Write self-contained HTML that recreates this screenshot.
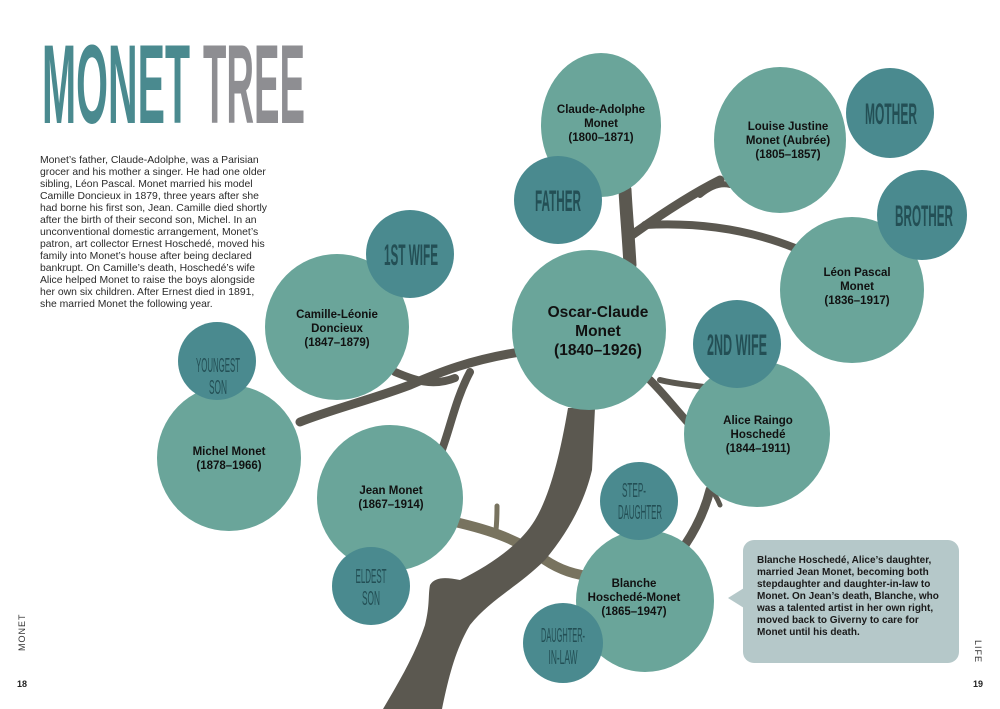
<!DOCTYPE html>
<html><head><meta charset="utf-8"><style>
html,body{margin:0;padding:0;background:#fff;}
svg{display:block;}
.p{font-family:"Liberation Sans",sans-serif;font-size:10.4px;fill:#2a2a2a;}
.n{font-family:"Liberation Sans",sans-serif;font-weight:bold;fill:#111;text-anchor:middle;}
.l{font-family:"Liberation Sans",sans-serif;fill:#234f55;text-anchor:middle;}
.c{font-family:"Liberation Sans",sans-serif;font-weight:bold;font-size:10px;fill:#1a1a1a;}
</style></head><body>
<svg width="1000" height="709" viewBox="0 0 1000 709" xmlns="http://www.w3.org/2000/svg">
<rect width="1000" height="709" fill="#fff"/>
<!-- title -->
<text x="42" y="123" font-family="Liberation Sans, sans-serif" font-weight="bold" font-size="112" fill="#4a8a8f" textLength="148" lengthAdjust="spacingAndGlyphs">MONET</text>
<text x="203" y="123" font-family="Liberation Sans, sans-serif" font-weight="bold" font-size="112" fill="#8e8e92" textLength="102" lengthAdjust="spacingAndGlyphs">TREE</text>
<!-- paragraph -->
<g class="p">
<text x="40" y="163">Monet’s father, Claude-Adolphe, was a Parisian</text>
<text x="40" y="175">grocer and his mother a singer. He had one older</text>
<text x="40" y="187">sibling, Léon Pascal. Monet married his model</text>
<text x="40" y="199">Camille Doncieux in 1879, three years after she</text>
<text x="40" y="211">had borne his first son, Jean. Camille died shortly</text>
<text x="40" y="223">after the birth of their second son, Michel. In an</text>
<text x="40" y="235">unconventional domestic arrangement, Monet’s</text>
<text x="40" y="247">patron, art collector Ernest Hoschedé, moved his</text>
<text x="40" y="259">family into Monet’s house after being declared</text>
<text x="40" y="271">bankrupt. On Camille’s death, Hoschedé’s wife</text>
<text x="40" y="283">Alice helped Monet to raise the boys alongside</text>
<text x="40" y="295">her own six children. After Ernest died in 1891,</text>
<text x="40" y="307">she married Monet the following year.</text>
</g>
<!-- branches -->
<g fill="none" stroke="#5b5850" stroke-linecap="round">
<path d="M520,352 C470,360 440,372 410,385 C370,400 330,410 300,422" stroke-width="9"/>
<path d="M455,378 C430,388 410,378 395,372" stroke-width="8"/>
<path d="M470,372 C455,400 450,430 440,455" stroke-width="8"/>
<path d="M630,265 C628,230 626,210 625,190" stroke-width="13"/>
<path d="M632,235 C660,215 690,195 720,180" stroke-width="9"/>
<path d="M700,195 C712,185 722,183 730,185" stroke-width="6"/>
<path d="M645,225 C700,222 750,230 795,248" stroke-width="8"/>
<path d="M650,380 C665,395 672,405 690,425" stroke-width="8"/>
<path d="M660,380 C680,385 695,385 710,388" stroke-width="6"/>
<path d="M710,490 C705,510 695,530 685,545" stroke-width="9"/>
<path d="M715,495 C718,500 720,505 720,505" stroke-width="5"/>
</g>
<path d="M455,522 C490,530 520,540 545,560 C560,570 575,575 595,577" fill="none" stroke="#78735f" stroke-width="10"/>
<path d="M496,530 C497,520 497,512 497,506" fill="none" stroke="#78735f" stroke-width="5" stroke-linecap="round"/>
<path d="M568,408 L595,408 L592,470 C585,500 570,530 545,560 C520,585 490,600 470,625 C455,650 448,680 442,709 L383,709 C400,680 415,655 425,625 C430,605 428,595 430,585 C435,577 445,577 460,580 C490,565 520,545 535,520 C550,495 560,455 568,408 Z" fill="#5b5850"/>
<!-- big circles -->
<g fill="#6aa59a">
<ellipse cx="601" cy="125" rx="60" ry="72"/>
<ellipse cx="780" cy="140" rx="66" ry="73"/>
<ellipse cx="852" cy="290" rx="72" ry="73"/>
<ellipse cx="589" cy="330" rx="77" ry="80"/>
<ellipse cx="757" cy="434" rx="73" ry="73"/>
<ellipse cx="337" cy="327" rx="72" ry="73"/>
<ellipse cx="229" cy="458" rx="72" ry="73"/>
<ellipse cx="390" cy="498" rx="73" ry="73"/>
<ellipse cx="645" cy="601" rx="69" ry="71"/>
</g>
<!-- small circles -->
<g fill="#4a8a8f">
<ellipse cx="890" cy="113" rx="44" ry="45"/>
<ellipse cx="558" cy="200" rx="44" ry="44"/>
<ellipse cx="922" cy="215" rx="45" ry="45"/>
<ellipse cx="737" cy="344" rx="44" ry="44"/>
<ellipse cx="410" cy="254" rx="44" ry="44"/>
<ellipse cx="217" cy="361" rx="39" ry="39"/>
<ellipse cx="371" cy="586" rx="39" ry="39"/>
<ellipse cx="639" cy="501" rx="39" ry="39"/>
<ellipse cx="563" cy="643" rx="40" ry="40"/>
</g>
<!-- names -->
<g class="n" font-size="11.5">
<text x="601" y="113">Claude-Adolphe</text><text x="601" y="127">Monet</text><text x="601" y="141">(1800–1871)</text>
<text x="788" y="130">Louise Justine</text><text x="788" y="144">Monet (Aubrée)</text><text x="788" y="158">(1805–1857)</text>
<text x="857" y="276">Léon Pascal</text><text x="857" y="290">Monet</text><text x="857" y="304">(1836–1917)</text>
<text x="758" y="424">Alice Raingo</text><text x="758" y="438">Hoschedé</text><text x="758" y="452">(1844–1911)</text>
<text x="337" y="318">Camille-Léonie</text><text x="337" y="332">Doncieux</text><text x="337" y="346">(1847–1879)</text>
<text x="229" y="455">Michel Monet</text><text x="229" y="469">(1878–1966)</text>
<text x="391" y="494">Jean Monet</text><text x="391" y="508">(1867–1914)</text>
<text x="634" y="587">Blanche</text><text x="634" y="601">Hoschedé-Monet</text><text x="634" y="615">(1865–1947)</text>
</g>
<g class="n" font-size="15.5">
<text x="598" y="317">Oscar-Claude</text><text x="598" y="336">Monet</text><text x="598" y="355">(1840–1926)</text>
</g>
<!-- role labels -->
<g class="l" font-size="30" font-weight="bold">
<text x="891" y="124" textLength="52" lengthAdjust="spacingAndGlyphs">MOTHER</text>
<text x="558" y="211" textLength="46" lengthAdjust="spacingAndGlyphs">FATHER</text>
<text x="924" y="226" textLength="58" lengthAdjust="spacingAndGlyphs">BROTHER</text>
<text x="737" y="355" textLength="60" lengthAdjust="spacingAndGlyphs">2ND WIFE</text>
<text x="411" y="265" textLength="54" lengthAdjust="spacingAndGlyphs">1ST WIFE</text>
</g>
<g class="l" font-size="20">
<text x="218" y="372" textLength="44" lengthAdjust="spacingAndGlyphs">YOUNGEST</text>
<text x="218" y="394" textLength="18" lengthAdjust="spacingAndGlyphs">SON</text>
<text x="371" y="583" textLength="31" lengthAdjust="spacingAndGlyphs">ELDEST</text>
<text x="371" y="605" textLength="18" lengthAdjust="spacingAndGlyphs">SON</text>
<text x="634" y="497" textLength="24" lengthAdjust="spacingAndGlyphs">STEP-</text>
<text x="640" y="519" textLength="44" lengthAdjust="spacingAndGlyphs">DAUGHTER</text>
<text x="563" y="642" textLength="44" lengthAdjust="spacingAndGlyphs">DAUGHTER-</text>
<text x="563" y="664" textLength="29" lengthAdjust="spacingAndGlyphs">IN-LAW</text>
</g>
<!-- callout -->
<rect x="743" y="540" width="216" height="123" rx="11" fill="#b5c8c9"/>
<path d="M744,588 L728,598 L744,608 Z" fill="#b5c8c9"/>
<g class="c">
<text x="757" y="563">Blanche Hoschedé, Alice’s daughter,</text>
<text x="757" y="575">married Jean Monet, becoming both</text>
<text x="757" y="587">stepdaughter and daughter-in-law to</text>
<text x="757" y="599">Monet. On Jean’s death, Blanche, who</text>
<text x="757" y="611">was a talented artist in her own right,</text>
<text x="757" y="623">moved back to Giverny to care for</text>
<text x="757" y="635">Monet until his death.</text>
</g>
<!-- page markers -->
<text transform="translate(25,651) rotate(-90)" font-family="Liberation Sans, sans-serif" font-size="9" fill="#333" letter-spacing="1">MONET</text>
<text x="17" y="687" font-family="Liberation Sans, sans-serif" font-weight="bold" font-size="9" fill="#222">18</text>
<text transform="translate(975,640) rotate(90)" font-family="Liberation Sans, sans-serif" font-size="9" fill="#333" letter-spacing="1">LIFE</text>
<text x="973" y="687" font-family="Liberation Sans, sans-serif" font-weight="bold" font-size="9" fill="#222">19</text>
</svg>
</body></html>
